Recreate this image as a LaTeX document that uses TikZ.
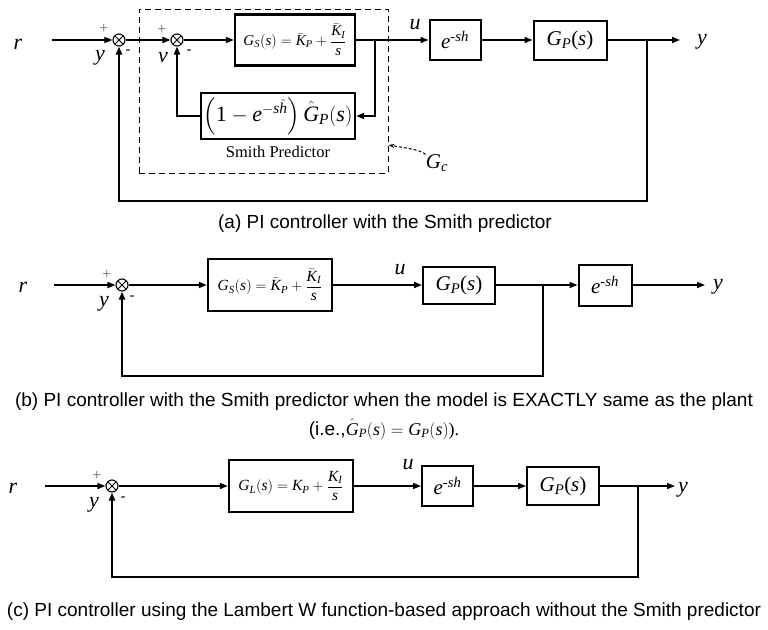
\documentclass[tikz,border=0pt]{standalone}
\usepackage{amsmath}
\usepackage{fontspec}
\setmainfont{Liberation Serif}
\newfontfamily\arialf{Liberation Sans}
\usetikzlibrary{arrows.meta}
\newcommand{\vi}[1]{\textit{#1}}
\tikzset{
  ln/.style={line width=1.6pt},
  arr/.style={line width=1.6pt, -{Triangle[length=8pt,width=6pt]}},
  fb/.style={line width=2.3pt, -{Triangle[length=8pt,width=6pt]}},
  blk/.style={draw, line width=2pt, inner sep=0pt, font=\fontsize{21}{24}\selectfont},
  sumn/.style={circle, draw, line width=1.1pt, minimum size=12pt, inner sep=0pt,
    path picture={\draw[line width=1pt] (path picture bounding box.north west) -- (path picture bounding box.south east)
      (path picture bounding box.north east) -- (path picture bounding box.south west);}},
  lab/.style={font=\fontsize{22}{24}\selectfont\itshape, inner sep=0pt},
  plus/.style={font=\fontsize{16}{16}\selectfont, text=black!60, inner sep=0pt},
  minus/.style={font=\arialf\fontsize{15}{16}\selectfont, inner sep=0pt},
  captxt/.style={font=\arialf\fontsize{19}{22}\selectfont, inner sep=0pt},
  dbox/.style={draw, line width=1pt, dash pattern=on 6pt off 4pt, inner sep=0pt}
}
\begin{document}
\begin{tikzpicture}[x=1pt,y=-1pt]
\useasboundingbox (0,0) rectangle (768,629);
% ---------------- (a)
\node[dbox, minimum width=249pt, minimum height=164pt] (gcbox) at (263.5,91) {};
\node[lab] (ra) at (18,44) {r};
\coordinate (ina) at (52,40);
\node[sumn] (s1a) at (119,40) {};
\node[sumn] (s2a) at (177,40) {};
\node[blk, line width=2.4pt, minimum width=120pt, minimum height=51pt] (gsa) at (295,40)
  {\fontsize{15}{18}\selectfont $\vi{G}_{\vi{S}}(\vi{s}) = \bar{\vi{K}}_{\vi{P}} + \dfrac{\bar{\vi{K}}_{\vi{I}}}{\vi{s}}$};
\node[blk, line width=2.4pt, minimum width=154pt, minimum height=46pt] (spa) at (278,116)
  {\fontsize{22}{24}\selectfont $\left(\text{1} - \vi{e}^{-\vi{s}\hat{\vi{h}}}\right)\hat{\vi{G}}_{\vi{P}}(\vi{s})$};
\node[font=\fontsize{16.5}{18}\selectfont, inner sep=0pt] (spt) at (278,152) {Smith Predictor};
\node[blk, minimum width=51pt, minimum height=40pt] (ea) at (455,40) {\vi{e}\textsuperscript{-\vi{sh}}};
\node[blk, minimum width=73pt, minimum height=39pt] (gpa) at (570,40) {\vi{G}\textsubscript{\vi{P}}(\vi{s})};
\coordinate (bra) at (375,40);
\coordinate (fba) at (647,40);
\coordinate (fbca) at (647,201);
\coordinate (oa) at (680,40);
\node[lab] (ya) at (702,42) {y};
\node[lab] (ua) at (415,25) {u};
\node[lab] (va) at (163,58) {v};
\node[lab] (y1a) at (100,58) {y};
\node[plus] (p1a) at (104,29) {+};
\node[plus] (p2a) at (162,30) {+};
\node[minus] (m1a) at (128,52) {-};
\node[minus] (m2a) at (189,52) {-};
\node[lab, font=\fontsize{21}{24}\selectfont\itshape] (gca) at (437,163) {G\textsubscript{c}};
\draw[arr] (ina) -- (s1a.west);
\draw[arr] (s1a.east) -- (s2a.west);
\draw[arr] (s2a.east) -- (gsa.west);
\draw[arr] (gsa.east) -- (ea.west);
\draw[line width=2.6pt, -{Triangle[length=8pt,width=6pt]}] (bra) |- (spa.east);
\draw[arr] (spa.west) -| (s2a.south);
\draw[arr] (ea.east) -- (gpa.west);
\draw[arr] (gpa.east) -- (oa);
\draw[fb] (fba) -- (fbca) -| (s1a.south);
\draw[line width=1pt, dash pattern=on 3pt off 2pt, -{Stealth[length=6pt,width=4pt]}] (gca.north west) .. controls (418,150) .. (gcbox.east |- 0,145);
\node[captxt] (capa) at (385,224) {(a) PI controller with the Smith predictor};
% ---------------- (b)
\node[lab] (rb) at (23,287) {r};
\coordinate (inb) at (54,285);
\node[sumn] (sb) at (122,285) {};
\node[blk, line width=2.4pt, minimum width=124pt, minimum height=52pt] (gsb) at (270,285)
  {\fontsize{15.5}{18}\selectfont $\vi{G}_{\vi{S}}(\vi{s}) = \bar{\vi{K}}_{\vi{P}} + \dfrac{\bar{\vi{K}}_{\vi{I}}}{\vi{s}}$};
\node[blk, minimum width=72pt, minimum height=37pt] (gpb) at (459,285) {\vi{G}\textsubscript{\vi{P}}(\vi{s})};
\node[blk, minimum width=53pt, minimum height=41pt] (eb) at (605,285) {\vi{e}\textsuperscript{-\vi{sh}}};
\coordinate (brb) at (543,285);
\coordinate (fbb) at (543,376);
\coordinate (ob) at (705,285);
\node[lab] (yb) at (718,287) {y};
\node[lab] (ub) at (400,270) {u};
\node[lab] (y1b) at (104,304) {y};
\node[plus] (pb) at (107,275) {+};
\node[minus] (mb) at (132,298) {-};
\draw[arr] (inb) -- (sb.west);
\draw[arr] (sb.east) -- (gsb.west);
\draw[arr] (gsb.east) -- (gpb.west);
\draw[arr] (gpb.east) -- (eb.west);
\draw[arr] (eb.east) -- (ob);
\draw[fb] (brb) -- (fbb) -| (sb.south);
\node[captxt] (capb) at (384,402) {(b) PI controller with the Smith predictor when the model is EXACTLY same as the plant};
\node[captxt] (capb2) at (384,429) {(i.e.,\fontsize{18}{20}\selectfont\rmfamily$\hat{\vi{G}}_{\vi{P}}(\vi{s}) = \vi{G}_{\vi{P}}(\vi{s})$).};
% ---------------- (c)
\node[lab] (rc) at (13,488) {r};
\coordinate (inc) at (45,486);
\node[sumn] (sc) at (112,486) {};
\node[blk, line width=2.4pt, minimum width=124pt, minimum height=52pt] (glc) at (291,486)
  {\fontsize{15.5}{18}\selectfont $\vi{G}_{\vi{L}}(\vi{s}) = \vi{K}_{\vi{P}} + \dfrac{\vi{K}_{\vi{I}}}{\vi{s}}$};
\node[blk, minimum width=51pt, minimum height=40pt] (ec) at (447.5,486) {\vi{e}\textsuperscript{-\vi{sh}}};
\node[blk, minimum width=72pt, minimum height=38pt] (gpc) at (563,486) {\vi{G}\textsubscript{\vi{P}}(\vi{s})};
\coordinate (brc) at (638,486);
\coordinate (fbc) at (638,577);
\coordinate (oc) at (675,486);
\node[lab] (yc) at (683,490) {y};
\node[lab] (uc) at (408,465) {u};
\node[lab] (y1c) at (94,505) {y};
\node[plus] (pc) at (97,476) {+};
\node[minus] (mc) at (123,499) {-};
\draw[arr] (inc) -- (sc.west);
\draw[arr] (sc.east) -- (glc.west);
\draw[arr] (glc.east) -- (ec.west);
\draw[arr] (ec.east) -- (gpc.west);
\draw[arr] (gpc.east) -- (oc);
\draw[fb] (brc) -- (fbc) -| (sc.south);
\node[captxt] (capc) at (384,612) {(c) PI controller using the Lambert W function-based approach without the Smith predictor};
\end{tikzpicture}
\end{document}
